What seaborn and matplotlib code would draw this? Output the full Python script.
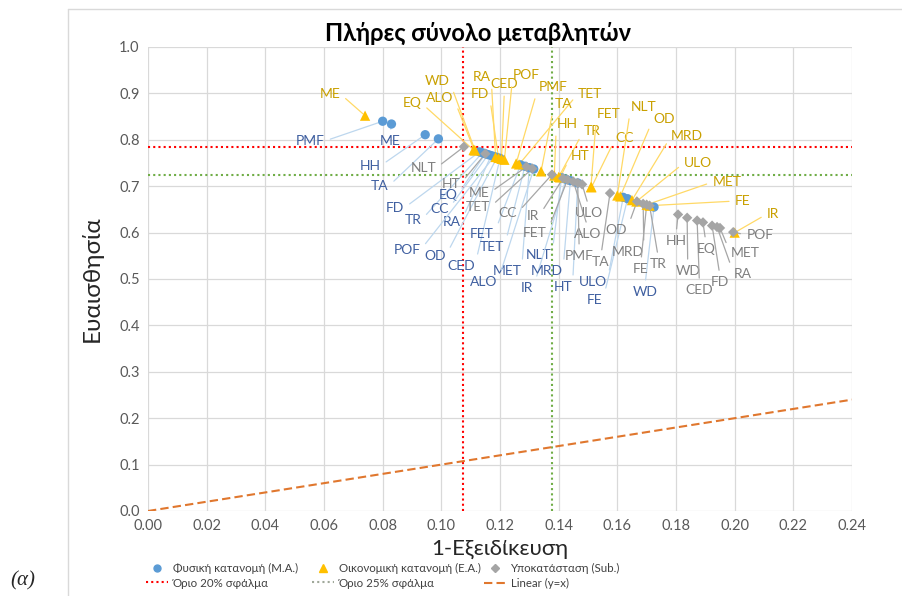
import matplotlib
matplotlib.use("Agg")
import matplotlib.pyplot as plt
import seaborn as sns
import pandas as pd
from matplotlib.lines import Line2D

# ---------------- data ----------------
# Φυσική κατανομή (Μ.Α.)
phys_vars = ["ME", "PMF", "HH", "TA", "FD", "TR", "EQ", "CC", "RA", "POF", "OD", "CED",
             "FET", "TET", "MET", "ALO", "NLT", "IR", "MRD", "HT", "ULO", "FE", "WD"]
phys_x = [0.0830, 0.0800, 0.0945, 0.0990, 0.1130, 0.1140, 0.1150, 0.1160, 0.1170, 0.1180, 0.1190, 0.1200,
          0.1270, 0.1285, 0.1300, 0.1315, 0.1410, 0.1425, 0.1440, 0.1465, 0.1620, 0.1635, 0.1725]
phys_y = [0.834, 0.840, 0.811, 0.802, 0.774, 0.772, 0.770, 0.768, 0.766, 0.764, 0.762, 0.760,
          0.746, 0.743, 0.740, 0.737, 0.718, 0.715, 0.712, 0.707, 0.676, 0.673, 0.655]

# Οικονομική κατανομή (Ε.Α.)
econ_vars = ["ME", "EQ", "WD", "ALO", "RA", "FD", "CED", "POF", "PMF", "TET", "TA", "HH",
             "TR", "HT", "FET", "CC", "NLT", "OD", "MRD", "ULO", "MET", "FE", "IR"]
econ_x = [0.0740, 0.1110, 0.1115, 0.1112, 0.1185, 0.1195, 0.1205, 0.1215, 0.1255, 0.1265, 0.1340, 0.1385,
          0.1400, 0.1405, 0.1510, 0.1512, 0.1600, 0.1610, 0.1650, 0.1665, 0.1700, 0.1710, 0.2000]
econ_y = [0.852, 0.778, 0.777, 0.778, 0.763, 0.761, 0.759, 0.757, 0.749, 0.747, 0.732, 0.723,
          0.720, 0.719, 0.698, 0.698, 0.680, 0.678, 0.670, 0.667, 0.660, 0.658, 0.600]

# Υποκατάσταση (Sub.)
sub_vars = ["NLT", "HT", "ME", "TET", "CC", "IR", "FET", "ALO", "ULO", "PMF", "TA", "OD",
            "MRD", "FE", "TR", "HH", "WD", "CED", "EQ", "FD", "MET", "RA", "POF"]
sub_x = [0.1077, 0.1150, 0.1290, 0.1310, 0.1377, 0.1415, 0.1430, 0.1450, 0.1480, 0.1465, 0.1575, 0.1667,
         0.1688, 0.1700, 0.1710, 0.1807, 0.1838, 0.1872, 0.1892, 0.1923, 0.1950, 0.1940, 0.1995]
sub_y = [0.785, 0.770, 0.742, 0.738, 0.725, 0.717, 0.714, 0.710, 0.704, 0.707, 0.685, 0.667,
         0.662, 0.660, 0.658, 0.639, 0.632, 0.626, 0.622, 0.615, 0.610, 0.612, 0.601]

# error thresholds (1-specificity, sensitivity)
limit20 = (0.1075, 0.785)
limit25 = (0.1377, 0.725)

# reference line y = x
ref_x = [0.0, 0.24]
ref_y = [0.0, 0.24]

series_names = ["Φυσική κατανομή (Μ.Α.)", "Οικονομική κατανομή (Ε.Α.)", "Υποκατάσταση (Sub.)"]
line_names = ["Όριο 20% σφάλμα", "Όριο 25% σφάλμα", "Linear (y=x)"]

# ---------------- label layout (text centres, data units) ----------------
phys_text = {
    "PMF": (0.0552, 0.797), "ME": (0.0825, 0.797), "HH": (0.0757, 0.744), "TA": (0.0790, 0.700),
    "FD": (0.0842, 0.653), "TR": (0.0903, 0.627), "EQ": (0.1022, 0.680), "CC": (0.0993, 0.651),
    "RA": (0.1036, 0.623), "POF": (0.0883, 0.5625), "OD": (0.0978, 0.5496), "CED": (0.1067, 0.528),
    "FET": (0.1139, 0.597), "TET": (0.1173, 0.569), "MET": (0.1224, 0.517), "ALO": (0.1145, 0.4935),
    "NLT": (0.1333, 0.5517), "MRD": (0.1360, 0.517), "IR": (0.1292, 0.4806), "HT": (0.1415, 0.4827),
    "ULO": (0.1517, 0.4935), "FE": (0.1524, 0.4547), "WD": (0.1694, 0.472),
}
econ_text = {
    "ME": (0.0620, 0.899), "EQ": (0.0900, 0.879), "WD": (0.0985, 0.927), "ALO": (0.0995, 0.890),
    "RA": (0.1139, 0.935), "FD": (0.1132, 0.899), "CED": (0.1215, 0.920), "POF": (0.1290, 0.940),
    "PMF": (0.1380, 0.914), "TET": (0.1507, 0.899), "TA": (0.1415, 0.877), "HH": (0.1428, 0.834),
    "TR": (0.1514, 0.819), "HT": (0.1473, 0.765), "FET": (0.1570, 0.856), "NLT": (0.1690, 0.871),
    "CC": (0.1626, 0.804), "OD": (0.1759, 0.845), "MRD": (0.1838, 0.808), "ULO": (0.1875, 0.750),
    "MET": (0.1974, 0.709), "FE": (0.2028, 0.668), "IR": (0.2131, 0.640),
}
sub_text = {
    "NLT": (0.0938, 0.739), "HT": (0.1033, 0.705), "ME": (0.1128, 0.685), "TET": (0.1125, 0.655),
    "CC": (0.1227, 0.642), "IR": (0.1312, 0.636), "FET": (0.1319, 0.599), "ALO": (0.1500, 0.597),
    "ULO": (0.1503, 0.642), "PMF": (0.1470, 0.5496), "TA": (0.1544, 0.537), "OD": (0.1595, 0.6056),
    "MRD": (0.1636, 0.558), "FE": (0.1680, 0.5216), "TR": (0.1740, 0.532), "HH": (0.1800, 0.582),
    "WD": (0.1840, 0.517), "CED": (0.1880, 0.476), "EQ": (0.1902, 0.565), "FD": (0.1950, 0.4930),
    "MET": (0.2035, 0.556), "RA": (0.2028, 0.5108), "POF": (0.2086, 0.595),
}

# ---------------- styling ----------------
sns.set_theme(style="white")
plt.rcParams["font.family"] = ["Lato", "DejaVu Sans"]

blue, gold, grey = "#5B9BD5", "#FFC000", "#A5A5A5"
red, green, orange = "#FF0000", "#70AD47", "#E0772E"
dotted = (0, (1, 1.5))
dashed = (0, (4, 2))
palette = dict(zip(series_names, [blue, gold, grey]))
markers = dict(zip(series_names, ["o", "^", "D"]))
sizes = dict(zip(series_names, [45, 55, 28]))

df = pd.concat([
    pd.DataFrame({"x": phys_x, "y": phys_y, "var": phys_vars, "series": series_names[0]}),
    pd.DataFrame({"x": econ_x, "y": econ_y, "var": econ_vars, "series": series_names[1]}),
    pd.DataFrame({"x": sub_x, "y": sub_y, "var": sub_vars, "series": series_names[2]}),
], ignore_index=True)

fig = plt.figure(figsize=(9.02, 5.96), dpi=100)
ax = fig.add_axes([148 / 902, 85 / 596, 704 / 902, 464 / 596])

# outer chart frame
fig.add_artist(Line2D([68 / 902, 68 / 902], [0, 1 - 9 / 596], transform=fig.transFigure,
                      color="#D9D9D9", lw=1))
fig.add_artist(Line2D([68 / 902, 1], [1 - 9 / 596, 1 - 9 / 596], transform=fig.transFigure,
                      color="#D9D9D9", lw=1))

# threshold lines
ax.axvline(limit20[0], color=red, ls=dotted, lw=1.5, zorder=1)
ax.axhline(limit20[1], color=red, ls=dotted, lw=1.5, zorder=1)
ax.axvline(limit25[0], color=green, ls=dotted, lw=1.5, zorder=1)
ax.axhline(limit25[1], color=green, ls=dotted, lw=1.5, zorder=1)

sns.lineplot(x=ref_x, y=ref_y, ax=ax, color=orange, lw=1.5, linestyle=dashed, zorder=2)


def add_labels(xs, ys, names, layout, text_col, line_col):
    """Name each marker with a leader line from the label's nearest side."""
    for px, py, name in zip(xs, ys, names):
        tx, ty = layout[name]
        dxp = (px - tx) * 2933.3
        dyp = (py - ty) * 464.0
        half_w = len(name) * 4.3
        if abs(dxp) > half_w + 2:
            rel = (1.0, 0.5) if dxp > 0 else (0.0, 0.5)
        else:
            rel = (0.5, 1.0) if dyp > 0 else (0.5, 0.0)
        ax.annotate(name, xy=(px, py), xytext=(tx, ty), textcoords="data",
                    ha="center", va="center", fontsize=10, color=text_col, zorder=3,
                    arrowprops=dict(arrowstyle="-", color=line_col, lw=0.9,
                                    shrinkA=2, shrinkB=2, relpos=rel))


add_labels(phys_x, phys_y, phys_vars, phys_text, "#3F5FA0", "#BDD7EE")
add_labels(econ_x, econ_y, econ_vars, econ_text, "#C9A000", "#FFD966")
add_labels(sub_x, sub_y, sub_vars, sub_text, "#7F7F7F", "#A6A6A6")

sns.scatterplot(data=df, x="x", y="y", hue="series", style="series", size="series",
                palette=palette, markers=markers, sizes=sizes, linewidth=0,
                ax=ax, legend=False, zorder=4)

# axes
ax.set_xlim(0, 0.24)
ax.set_ylim(0, 1.0)
ax.set_xticks([i * 0.02 for i in range(13)])
ax.set_yticks([i * 0.1 for i in range(11)])
ax.set_xticklabels([f"{i * 0.02:.2f}" for i in range(13)])
ax.set_yticklabels([f"{i * 0.1:.1f}" for i in range(11)])
ax.tick_params(axis="both", length=0, labelsize=10.5, labelcolor="#595959", pad=6)
ax.grid(True, color="#D9D9D9", lw=0.9)
ax.set_axisbelow(True)
for s in ax.spines.values():
    s.set_visible(False)
ax.set_xlabel("1-Εξειδίκευση", fontsize=16, color="#262626", labelpad=4)
ax.set_ylabel("Ευαισθησία", fontsize=17.5, color="#262626", labelpad=12)

fig.text(478 / 902, 1 - 33 / 596, "Πλήρες σύνολο μεταβλητών", ha="center", va="center",
         fontsize=17, fontweight="bold", color="#000000")
fig.text(10 / 902, 1 - 581 / 596, "(α)", ha="left", va="center", fontsize=15,
         style="italic", family=["Liberation Serif", "DejaVu Serif"])

# legend: three columns, each a series marker above a reference line
legend_handles = [
    (Line2D([], [], marker="o", color=blue, ls="none", markersize=5),
     Line2D([], [], color=red, ls=dotted, lw=1.5)),
    (Line2D([], [], marker="^", color=gold, ls="none", markersize=6),
     Line2D([], [], color="#A0A89A", ls=dotted, lw=1.5)),
    (Line2D([], [], marker="D", color=grey, ls="none", markersize=4),
     Line2D([], [], color=orange, ls=dashed, lw=1.5)),
]
col_left = [146, 312, 484]
for (hs, hl), sname, lname, xl in zip(legend_handles, series_names, line_names, col_left):
    fig.legend([hs, hl], [sname, lname], loc="upper left",
               bbox_to_anchor=(xl / 902, 1 - 563 / 596), frameon=False, fontsize=8.3,
               handlelength=1.9, handletextpad=0.4, labelspacing=0.3, borderpad=0,
               borderaxespad=0, labelcolor="#404040")

fig.savefig("out.png", dpi=100)
